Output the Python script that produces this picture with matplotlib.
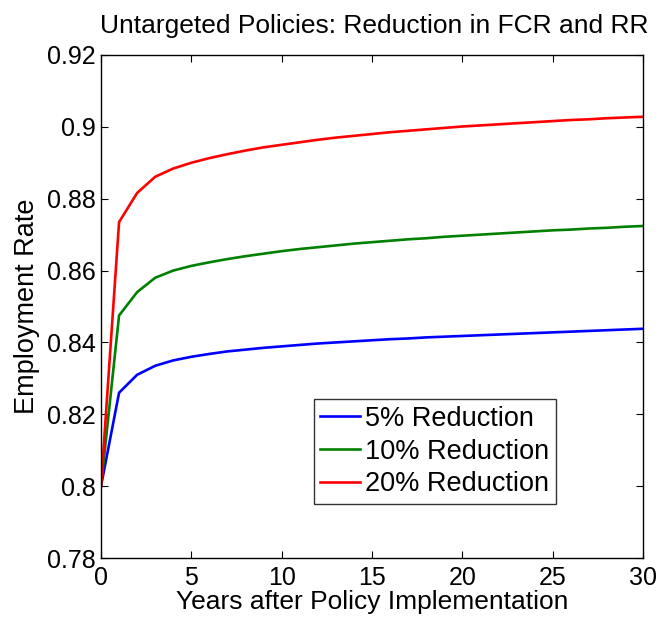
import matplotlib
matplotlib.use('Agg')
import matplotlib.pyplot as plt

years = list(range(0, 31))

red_20 = [0.800, 0.8735, 0.8816, 0.8861, 0.8884, 0.8900, 0.8913, 0.8924, 0.8934, 0.8943,
          0.8950, 0.8957, 0.8964, 0.8970, 0.8975, 0.8980, 0.8985, 0.8989, 0.8993, 0.8997,
          0.9001, 0.9004, 0.9007, 0.9010, 0.9013, 0.9016, 0.9019, 0.9021, 0.9024, 0.9026, 0.9028]
green_10 = [0.800, 0.8475, 0.8540, 0.8580, 0.8600, 0.8613, 0.8623, 0.8632, 0.8640, 0.8647,
            0.8654, 0.8660, 0.8665, 0.8670, 0.8675, 0.8679, 0.8683, 0.8687, 0.8690, 0.8694,
            0.8697, 0.8700, 0.8703, 0.8706, 0.8709, 0.8712, 0.8714, 0.8717, 0.8719, 0.8722, 0.8724]
blue_5 = [0.800, 0.8260, 0.8310, 0.8335, 0.8350, 0.8360, 0.8368, 0.8375, 0.8380, 0.8385,
          0.8389, 0.8393, 0.8397, 0.8400, 0.8403, 0.8406, 0.8409, 0.8411, 0.8414, 0.8416,
          0.8418, 0.8420, 0.8422, 0.8424, 0.8426, 0.8428, 0.8430, 0.8432, 0.8434, 0.8436, 0.8438]

labels = ['5% Reduction', '10% Reduction', '20% Reduction']

plt.rcParams['font.family'] = ['Liberation Sans', 'DejaVu Sans']

fig = plt.figure(figsize=(6.61, 6.17), dpi=100)
ax = fig.add_axes([0.1528, 0.0956, 0.82, 0.8153])

ax.plot(years, blue_5, color='#0000ff', lw=1.9, label=labels[0])
ax.plot(years, green_10, color='#008000', lw=1.9, label=labels[1])
ax.plot(years, red_20, color='#ff0000', lw=1.9, label=labels[2])

ax.set_xlim(0, 30)
ax.set_ylim(0.78, 0.92)
ax.set_xticks([0, 5, 10, 15, 20, 25, 30])
ax.set_yticks([0.78, 0.8, 0.82, 0.84, 0.86, 0.88, 0.9, 0.92])
ax.set_yticklabels(['0.78', '0.8', '0.82', '0.84', '0.86', '0.88', '0.9', '0.92'])
ax.tick_params(direction='in', top=True, right=True, labelsize=18, length=5, width=0.8)
ax.tick_params(axis='x', pad=6)
ax.tick_params(axis='y', pad=4)
for s in ax.spines.values():
    s.set_linewidth(1.0)

ax.set_xlabel('Years after Policy Implementation', fontsize=19, labelpad=0)
ax.set_ylabel('Employment Rate', fontsize=19.5, labelpad=5)
ax.set_title('Untargeted Policies: Reduction in FCR and RR', fontsize=19, pad=16, x=0.505)

leg = ax.legend(loc='lower right', bbox_to_anchor=(0.8395, 0.107), fontsize=19.5,
                frameon=True, fancybox=False, edgecolor='black', borderpad=0.25,
                handlelength=1.45, handletextpad=0.2, labelspacing=0.25,
                borderaxespad=0)
leg.get_frame().set_linewidth(1.0)

fig.savefig('out.png', dpi=100)
